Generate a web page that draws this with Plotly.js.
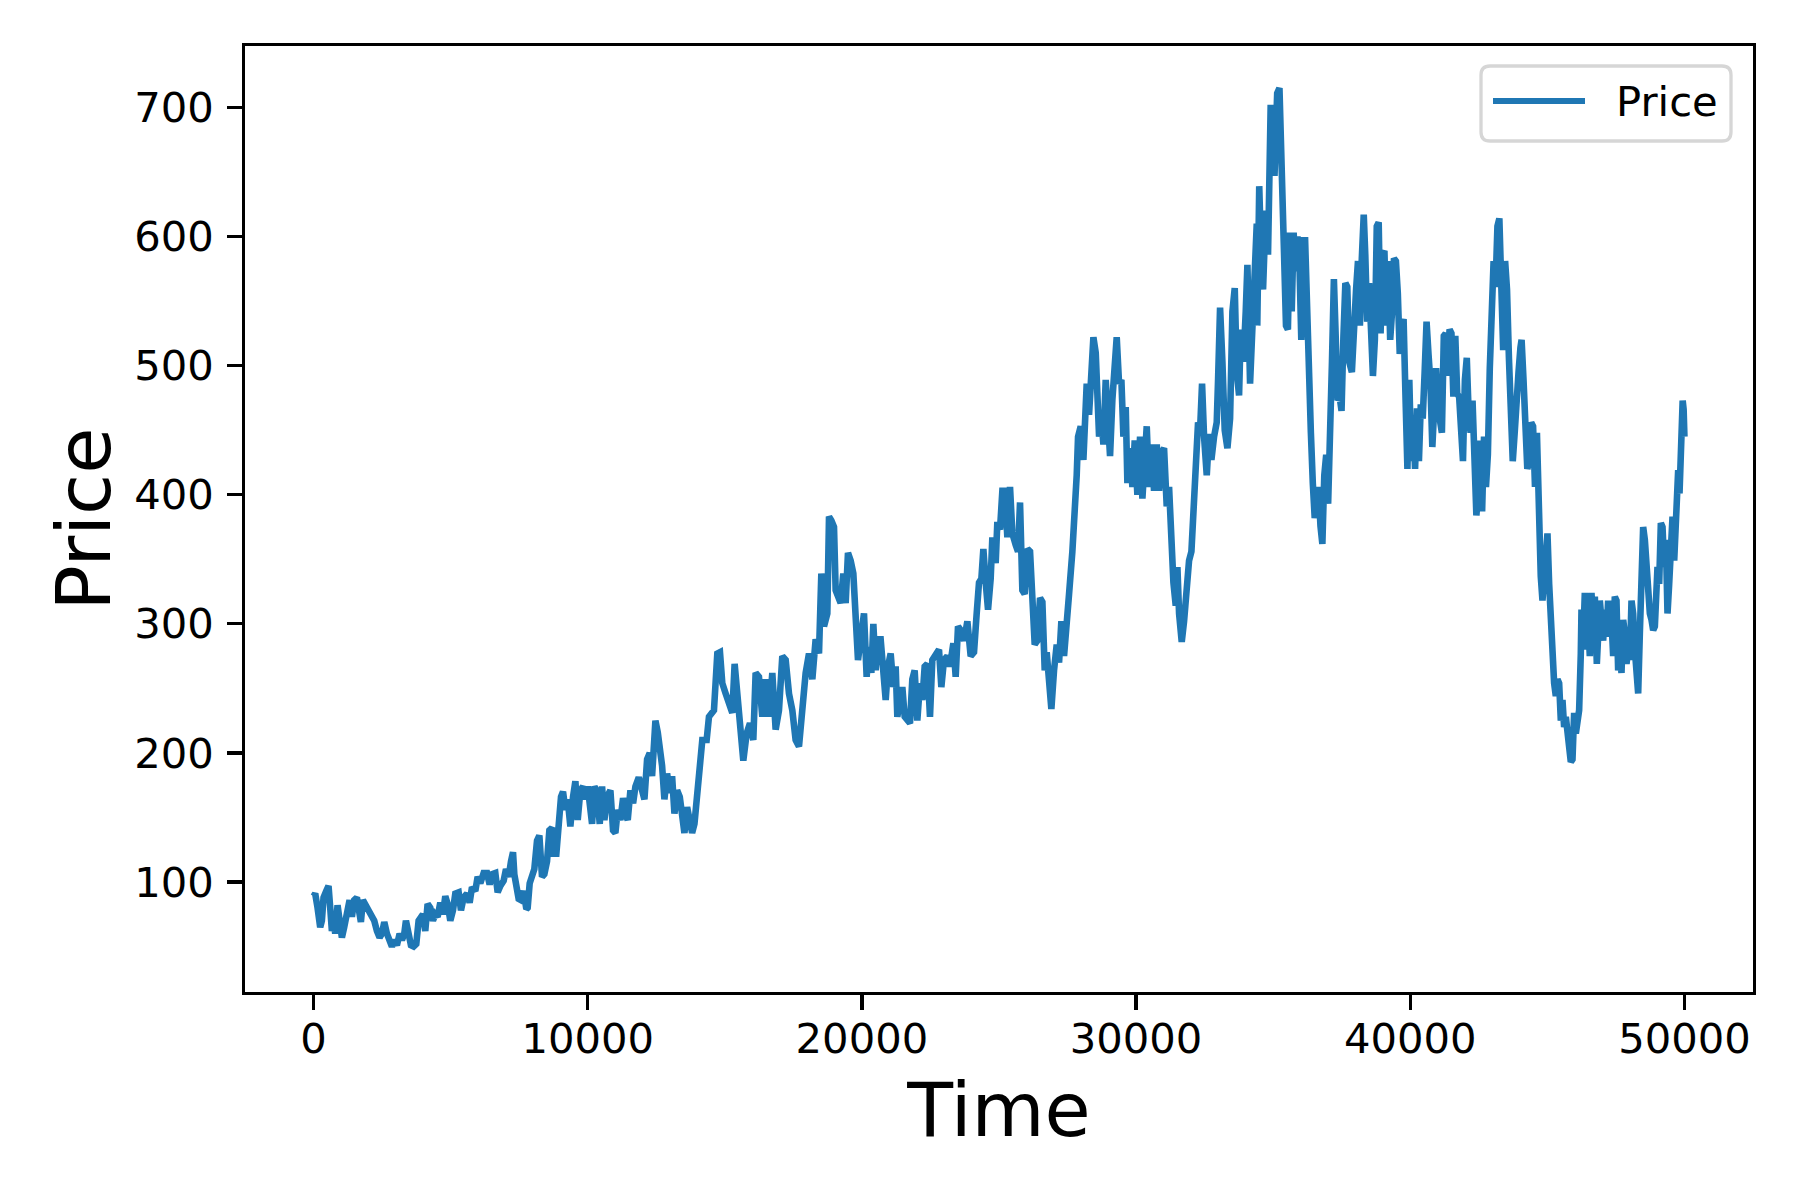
<!DOCTYPE html>
<html>
<head>
<meta charset="utf-8">
<script src="https://cdn.plot.ly/plotly-3.0.1.min.js"></script>
<style>
html, body { margin: 0; padding: 0; background: #ffffff; }
#chart { width: 1800px; height: 1200px; }
</style>
</head>
<body>
<div id="chart"></div>
<script>
// Time steps
const timeValues = [
0,61,146,243,304,365,462,547,608,669,730,791,876,949,1034,1119,1217,1314,1399,1484,1581,1654,1727,1800,1886,2007,2129,2214,2311,2409,2494,2579,2676,2774,2859,2944,3041,3139,3224,3309,3370,3467,3552,3650,3747,3832,3893,3990,4075,4160,4258,4355,4440,4525,4623,4720,4805,4890,4988,5085,5170,5292,5377,5474,5596,5693,5778,5900,5985,6083,6204,6326,6423,6508,6630,6715,6812,6934,7019,7116,7202,7275,7323,7396,7481,7567,7664,7761,7810,7883,7968,8053,8151,8236,8333,8418,8516,8601,8698,8759,8856,8941,9026,9099,9185,9270,9367,9464,9550,9635,9732,9829,9914,10000,10073,10158,10243,10340,10438,10523,10608,10705,10827,10924,11009,11094,11192,11289,11374,11459,11557,11654,11739,11861,11983,12068,12165,12262,12347,12408,12469,12554,12627,12712,12797,12895,12992,13077,13163,13260,13357,13442,13527,13625,13722,13807,13892,
14057,14179,14337,14422,14604,14726,14823,14908,15030,15152,15273,15358,15455,15552,15674,15796,15917,16039,16124,16245,16367,16489,16610,16732,16854,16975,17097,17219,17340,17462,17583,17705,17827,17948,18070,18192,18313,18435,18520,18617,18739,18800,18885,18982,19043,19128,19225,19322,19407,19492,19590,19687,19772,19857,19955,20076,20173,20258,20344,20417,20502,20587,20684,20781,20867,20952,21049,21146,21231,21292,21389,21474,21560,21657,21754,21839,21924,22021,22118,22204,22289,22386,22483,22568,22690,22812,22897,22994,23116,23213,23335,23420,23505,23603,
23725,23846,23967,24089,24186,24271,24357,24430,24515,24600,24697,24758,24879,24940,25037,25123,25208,25305,25402,25487,25609,25694,25767,25852,25937,26035,26132,26217,26302,26400,26497,26582,26667,26740,26825,26910,27007,27105,27190,27275,27372,27469,27555,27676,27761,27834,27883,27980,28078,28163,28199,28284,28370,28443,28528,28589,28650,28735,28808,28892,28953,29050,29136,29197,29293,29379,29464,29537,29622,29683,29780,29865,29950,30047,30145,30230,30315,30388,30473,30558,30655,30753,30838,30923,31020,31117,31203,31288,31361,31446,31507,31568,31665,31750,31847,31932,32018,32091,32175,32260,32333,32406,32479,32577,32662,32747,32844,32941,32990,33063,33148,33233,33331,33428,33513,33598,33671,33756,33817,33914,33999,34060,34157,34242,34328,34401,
34420,34491,34561,34631,34729,34812,34909,34978,35048,35146,35229,35285,35327,35397,35467,35537,35606,35676,35746,35816,35886,35956,36026,36096,36165,36235,36305,36375,36445,36515,36585,36655,36724,36794,36864,36934,37004,37074,37144,37214,37283,37353,37423,37493,37563,37633,37703,37772,37870,37954,38024,38093,38163,38233,38303,38359,38428,38498,38568,38638,38708,38778,38848,38917,38987,39057,39127,39197,39267,39337,39406,39476,39546,39616,39686,39756,39826,39896,39965,40035,40105,40175,40245,40315,40384,40454,40524,40594,40664,40734,40804,40874,40943,41013,41083,41153,41223,41293,41363,41433,41502,41572,41642,41712,41782,41852,41922,41992,42061,42131,42201,42271,42341,42411,42481,42550,42620,42690,42760,42830,42900,42970,43039,43109,43179,43249,43319,43389,43459,43528,43598,43668,43738,43808,43878,43948,44018,44060,44130,44199,44269,44339,44409,44479,44549,44619,44689,44759,
44822,44883,44943,45004,45065,45126,45187,45247,45308,45369,45430,45491,45551,45612,45673,45734,45795,45855,45916,45977,46038,46099,46159,46220,46245,46318,46366,46439,46487,46548,46609,46682,46731,46804,46852,46913,46974,47035,47096,47156,47217,47278,47339,47400,47460,47521,47582,47643,47704,47765,47825,47886,47947,48008,48069,48129,48190,48251,48312,48373,48434,48494,48555,48616,48677,48738,48799,48859,48920,48981,49017,49078,49139,49200,49261,49321,49382,49443,49504,49565,49626,49686,49722,49771,49820,49868,49890,49935,49970,49999
];

// Price values (same order as timeValues)
const priceValues = [
89,91,80,65,70,88,93,97,80,62,70,60,82,70,57,65,73,86,73,86,88,79,69,86,83,78,75,70,62,57,60,69,60,55,50,55,51,60,55,60,70,60,51,50,52,70,73,75,62,83,80,70,75,73,84,75,89,83,70,78,91,92,78,88,91,84,96,93,104,99,107,107,98,106,107,92,97,101,110,104,116,123,106,96,87,86,93,79,80,99,104,110,132,136,104,106,116,140,142,122,122,145,166,170,156,164,143,166,178,148,171,174,164,174,153,145,174,170,145,174,148,166,171,140,138,156,148,165,153,148,171,161,174,181,171,164,195,200,182,205,225,216,203,190,164,184,169,182,153,171,166,148,138,158,143,138,145,
189,210,210,228,233,277,278,254,246,236,231,269,241,218,194,215,223,210,262,259,228,257,228,262,218,233,275,272,246,233,210,205,241,262,277,257,288,277,339,298,308,383,380,375,326,321,316,339,316,355,349,339,295,272,288,308,259,282,262,300,264,288,288,257,241,267,277,251,267,228,241,251,228,225,223,257,264,225,254,241,267,269,228,272,277,280,251,272,275,267,285,259,298,295,
287,302,275,278,308,332,335,358,332,311,335,367,347,379,373,403,403,367,406,370,361,356,394,326,323,358,356,326,284,287,320,317,264,278,255,234,264,284,270,302,275,308,323,356,379,415,445,453,427,456,486,462,495,522,510,480,445,459,439,489,456,430,474,495,522,486,489,445,468,409,436,406,442,400,445,397,439,453,406,439,403,439,403,433,436,391,406,361,332,314,344,308,286,302,329,349,356,385,415,456,450,486,445,415,447,427,445,456,489,545,503,450,436,459,542,560,495,477,528,503,542,578,486,530,554,610,
531,639,586,559,620,586,702,683,647,711,715,683,655,586,531,528,603,542,603,573,600,581,520,597,597,531,476,448,409,382,393,406,376,362,415,431,393,437,503,567,523,473,476,465,523,564,561,503,495,545,559,581,531,583,617,586,534,564,503,492,520,608,611,525,586,589,531,581,520,542,583,581,556,509,531,536,476,420,489,426,459,420,467,426,470,459,495,534,509,487,437,478,498,467,451,448,523,525,492,528,525,476,523,478,476,453,426,489,506,462,448,473,420,384,404,442,387,445,406,431,498,559,581,561,608,614,573,512,581,559,506,462,426,448,489,495,514,520,489,462,420,426,456,453,406,448,370,337,
318,339,365,370,331,293,280,254,244,257,254,225,241,220,228,215,195,193,195,231,215,225,233,277,311,293,324,280,303,275,324,293,321,269,293,318,303,287,311,290,318,293,303,275,321,318,264,277,262,303,293,269,280,272,318,308,280,267,246,293,344,375,365,337,318,308,303,295,298,324,344,331,378,375,344,365,308,331,370,383,349,370,396,419,401,427,468,473,466,445
];

const xTickValues = [0, 10000, 20000, 30000, 40000, 50000];
const xTickLabels = ['0', '10000', '20000', '30000', '40000', '50000'];
const yTickValues = [100, 200, 300, 400, 500, 600, 700];
const yTickLabels = ['100', '200', '300', '400', '500', '600', '700'];

const seriesName = 'Price';
const xTitle = 'Time';
const yTitle = 'Price';

const fontFamily = 'DejaVu Sans, Liberation Sans, sans-serif';
const lineColor = '#1f77b4';

// Plot area in pixels (layout)
const plotLeft = 245, plotRight = 1753, plotTop = 46, plotBottom = 992;
const W = 1800, H = 1200;
const toPaperX = px => (px - plotLeft) / (plotRight - plotLeft);
const toPaperY = py => (plotBottom - py) / (plotBottom - plotTop);

// Legend box (matplotlib-style, rounded frame)
const lg = { x0: 1481, x1: 1731, y0: 66, y1: 141, r: 9 };
function P(px, py) { return toPaperX(px).toFixed(5) + ',' + toPaperY(py).toFixed(5); }
const legendPath =
  'M' + P(lg.x0 + lg.r, lg.y0) +
  ' L' + P(lg.x1 - lg.r, lg.y0) +
  ' Q' + P(lg.x1, lg.y0) + ' ' + P(lg.x1, lg.y0 + lg.r) +
  ' L' + P(lg.x1, lg.y1 - lg.r) +
  ' Q' + P(lg.x1, lg.y1) + ' ' + P(lg.x1 - lg.r, lg.y1) +
  ' L' + P(lg.x0 + lg.r, lg.y1) +
  ' Q' + P(lg.x0, lg.y1) + ' ' + P(lg.x0, lg.y1 - lg.r) +
  ' L' + P(lg.x0, lg.y0 + lg.r) +
  ' Q' + P(lg.x0, lg.y0) + ' ' + P(lg.x0 + lg.r, lg.y0) + ' Z';

const trace = {
  x: timeValues,
  y: priceValues,
  type: 'scatter',
  mode: 'lines',
  name: seriesName,
  line: { color: lineColor, width: 6.6 },
  showlegend: false
};

const axisCommon = {
  showline: true,
  mirror: true,
  linecolor: '#000000',
  linewidth: 3.3,
  ticks: 'outside',
  ticklen: 14.6,
  tickwidth: 3.3,
  tickcolor: '#000000',
  showgrid: false,
  zeroline: false,
  automargin: false,
  tickfont: { family: fontFamily, size: 41.7, color: '#000000' }
};

const layout = {
  width: W,
  height: H,
  paper_bgcolor: '#ffffff',
  plot_bgcolor: '#ffffff',
  margin: { l: plotLeft, r: W - plotRight, t: plotTop, b: H - plotBottom, pad: 0 },
  font: { family: fontFamily, color: '#000000' },
  xaxis: Object.assign({}, axisCommon, {
    range: [-2500, 52500],
    tickmode: 'array',
    tickvals: xTickValues,
    ticktext: xTickLabels,
    ticklabelstandoff: -7,
    title: { text: xTitle, font: { family: fontFamily, size: 75, color: '#000000' }, standoff: 22 }
  }),
  yaxis: Object.assign({}, axisCommon, {
    range: [14.8, 747.6],
    tickmode: 'array',
    tickvals: yTickValues,
    ticktext: yTickLabels,
    ticklabelstandoff: 5,
    title: { text: yTitle, font: { family: fontFamily, size: 75, color: '#000000' }, standoff: 0 }
  }),
  showlegend: false,
  shapes: [
    {
      type: 'path', xref: 'paper', yref: 'paper', layer: 'above',
      path: legendPath,
      fillcolor: 'rgba(255,255,255,0.8)',
      line: { color: '#d6d6d6', width: 3.3 }
    },
    {
      type: 'line', xref: 'paper', yref: 'paper', layer: 'above',
      x0: toPaperX(1493), x1: toPaperX(1585), y0: toPaperY(101), y1: toPaperY(101),
      line: { color: lineColor, width: 6.2 }
    }
  ],
  annotations: [
    {
      text: seriesName, xref: 'paper', yref: 'paper',
      x: toPaperX(1614), y: toPaperY(101), xanchor: 'left', yanchor: 'middle',
      showarrow: false,
      font: { family: fontFamily, size: 41.7, color: '#000000' }
    }
  ]
};

Plotly.newPlot('chart', [trace], layout, { displayModeBar: false, staticPlot: true });
</script>
</body>
</html>
